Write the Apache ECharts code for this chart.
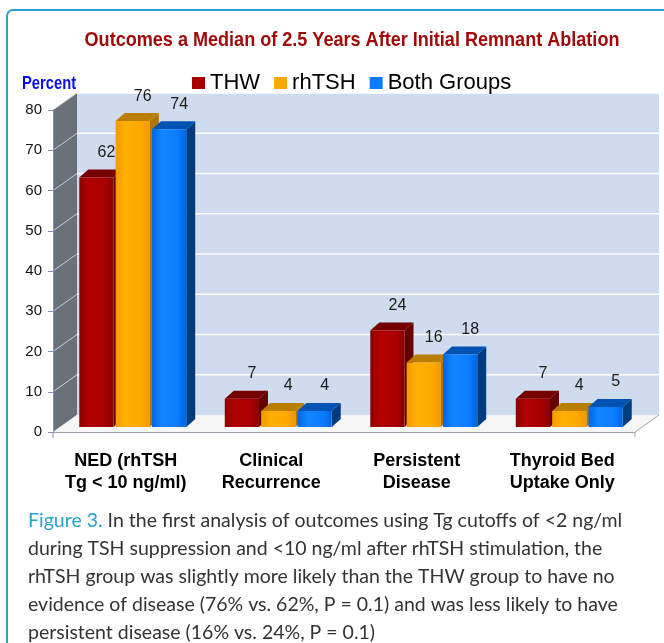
<!DOCTYPE html>
<html>
<head>
<meta charset="utf-8">
<script src="https://cdn.jsdelivr.net/npm/echarts@6/dist/echarts.min.js"></script>
<style>
html, body { margin: 0; padding: 0; background: #fff; }
#container { width: 664px; height: 643px; }
</style>
</head>
<body>
<div id="container"></div>
<script>
let categories = ['NED (rhTSH\nTg < 10 ng/ml)', 'Clinical\nRecurrence', 'Persistent\nDisease', 'Thyroid Bed\nUptake Only'];
let thwData = [62, 7, 24, 7];
let rhtshData = [76, 4, 16, 4];
let bothData = [74, 4, 18, 5];
let yTicks = [0, 10, 20, 30, 40, 50, 60, 70, 80];
let captionLines = [
    '{a|Figure 3.} In the first analysis of outcomes using Tg cutoffs of <2 ng/ml',
    'during TSH suppression and <10 ng/ml after rhTSH stimulation, the',
    'rhTSH group was slightly more likely than the THW group to have no',
    'evidence of disease (76% vs. 62%, P = 0.1) and was less likely to have',
    'persistent disease (16% vs. 24%, P = 0.1)'
];

// depth of the "3D" box and of each bar
let wallDx = 24, wallDy = 17;
let barDx = 9, barDy = 8;

let palette = {
    THW: { front: ['#8c0000', '#b30000', '#a80000', '#8a0000'], side: '#650000', top: '#760000' },
    rhTSH: { front: ['#f29a00', '#ffb000', '#ffa800', '#f09800'], side: '#b07400', top: '#b97d00' },
    Both: { front: ['#0066e6', '#1386ff', '#0a7cff', '#0066e0'], side: '#003b80', top: '#0052b3' }
};

function backdrop(params, api) {
    let cs = params.coordSys;
    let L = cs.x, T = cs.y, R = cs.x + cs.width, B = cs.y + cs.height;
    let kids = [];
    kids.push({ type: 'rect', shape: { x: L + wallDx, y: T - wallDy, width: R - L, height: B - T }, style: { fill: '#cfdbee' } });
    kids.push({ type: 'polygon', shape: { points: [[L, T], [L + wallDx, T - wallDy], [L + wallDx, B - wallDy], [L, B]] }, style: { fill: '#6a707a' } });
    yTicks.forEach(function (v) {
        if (v === 0) return;
        let y = api.coord([0, v])[1];
        kids.push({ type: 'line', shape: { x1: L + wallDx, y1: y - wallDy, x2: R + wallDx, y2: y - wallDy }, style: { stroke: '#ffffff', lineWidth: 1.5 } });
        kids.push({ type: 'line', shape: { x1: L, y1: y, x2: L + wallDx, y2: y - wallDy }, style: { stroke: '#c9cdd3', lineWidth: 1 } });
    });
    kids.push({ type: 'polygon', shape: { points: [[L, B], [L + wallDx, B - wallDy], [R + wallDx, B - wallDy], [R, B]] }, style: { fill: '#f6f6f6' } });
    kids.push({ type: 'line', shape: { x1: R, y1: B, x2: R + wallDx, y2: B - wallDy }, style: { stroke: '#a0a0a0', lineWidth: 1 } });
    kids.push({ type: 'line', shape: { x1: R, y1: B, x2: R, y2: B + 5 }, style: { stroke: '#a0a0a0', lineWidth: 1 } });
    kids.push({ type: 'line', shape: { x1: L, y1: B, x2: L, y2: B + 6 }, style: { stroke: '#7f93b0', lineWidth: 1 } });
    return { type: 'group', children: kids };
}

function makeBar(slot, col) {
    return function (params, api) {
        let i = api.value(0), v = api.value(1);
        let base = api.coord([i, 0]);
        let top = api.coord([i, v]);
        let catW = api.size([1, 0])[0];
        let bw = catW * 0.235;
        let x0 = base[0] + slot * catW * 0.25 - bw / 2 + 7;
        let x1 = x0 + bw;
        let yb = base[1] - 5, yt = top[1] - 5;
        let grad = new echarts.graphic.LinearGradient(0, 0, 1, 0, [
            { offset: 0, color: col.front[0] },
            { offset: 0.3, color: col.front[1] },
            { offset: 0.75, color: col.front[2] },
            { offset: 1, color: col.front[3] }
        ]);
        return {
            type: 'group',
            children: [
                { type: 'polygon', shape: { points: [[x1, yb], [x1 + barDx, yb - barDy], [x1 + barDx, yt - barDy], [x1, yt]] }, style: { fill: col.side } },
                { type: 'polygon', shape: { points: [[x0, yt], [x0 + barDx, yt - barDy], [x1 + barDx, yt - barDy], [x1, yt]] }, style: { fill: col.top } },
                { type: 'rect', shape: { x: x0, y: yt, width: bw, height: yb - yt }, style: { fill: grad } },
                { type: 'text', style: { text: String(v), x: (x0 + x1) / 2 + 10, y: yt - 25, align: 'center', verticalAlign: 'middle', font: '16px "Liberation Sans", Arial, sans-serif', fill: '#1a1a1a' } }
            ]
        };
    };
}

function toPoints(arr) {
    return arr.map(function (v, i) { return [i, v]; });
}

var dom = document.getElementById('container');
var myChart = echarts.init(dom, null, { renderer: 'canvas' });

var captionGraphics = captionLines.map(function (line, k) {
    return {
        type: 'text', left: 28, top: 511 + k * 28,
        style: {
            text: line,
            font: '19.5px Lato, "Open Sans", sans-serif',
            fill: '#333333',
            rich: { a: { fill: '#26a3cc', font: '19.5px Lato, "Open Sans", sans-serif' } }
        }
    };
});

var option = {
    animation: false,
    backgroundColor: '#ffffff',
    grid: { left: 53, right: 29, top: 110, bottom: 211 },
    legend: {
        left: 187, top: 67,
        icon: 'rect', itemWidth: 13, itemHeight: 12, itemGap: 14,
        textStyle: { fontSize: 22, fontFamily: '"Liberation Sans", Arial, sans-serif', color: '#000' },
        data: ['THW', 'rhTSH', 'Both Groups']
    },
    xAxis: {
        type: 'category',
        data: categories,
        z: 5,
        axisLine: { lineStyle: { color: '#9aa0a8' } },
        axisTick: { show: false },
        axisLabel: {
            interval: 0,
            fontSize: 18, fontWeight: 'bold', color: '#000', lineHeight: 22, margin: 18,
            fontFamily: '"Liberation Sans", Arial, sans-serif'
        }
    },
    yAxis: {
        type: 'value', min: 0, max: 80, interval: 10, z: 5,
        axisLine: { show: true, lineStyle: { color: '#7f93b0' } },
        axisTick: { show: true, length: 5, lineStyle: { color: '#7f93b0' } },
        splitLine: { show: false },
        axisLabel: { fontSize: 15, color: '#111', margin: 11, fontFamily: '"Liberation Sans", Arial, sans-serif' }
    },
    graphic: [
        { type: 'rect', shape: { x: 7, y: 10, width: 720, height: 700, r: 6 }, style: { fill: 'none', stroke: '#2b9fc9', lineWidth: 2 } },
        { type: 'text', x: 352, y: 40, scaleX: 0.86, style: { text: 'Outcomes a Median of 2.5 Years After Initial Remnant Ablation', align: 'center', verticalAlign: 'middle', font: 'bold 21px "Liberation Sans", Arial, sans-serif', fill: '#a00a0a' } },
        { type: 'text', x: 49, y: 84, scaleX: 0.82, style: { text: 'Percent', align: 'center', verticalAlign: 'middle', font: 'bold 18px "Liberation Sans", Arial, sans-serif', fill: '#0a0aee' } }
    ].concat(captionGraphics),
    series: [
        { type: 'custom', name: 'backdrop', z: 1, renderItem: backdrop, data: [[0, 0]], silent: true },
        { type: 'custom', name: 'THW', z: 2, renderItem: makeBar(-1, palette.THW), data: toPoints(thwData), encode: { x: 0, y: 1 }, itemStyle: { color: '#a80000' } },
        { type: 'custom', name: 'rhTSH', z: 2, renderItem: makeBar(0, palette.rhTSH), data: toPoints(rhtshData), encode: { x: 0, y: 1 }, itemStyle: { color: '#ffa800' } },
        { type: 'custom', name: 'Both Groups', z: 2, renderItem: makeBar(1, palette.Both), data: toPoints(bothData), encode: { x: 0, y: 1 }, itemStyle: { color: '#0a7cff' } }
    ]
};

if (option && typeof option === 'object') {
    myChart.setOption(option);
}

window.addEventListener('resize', myChart.resize);
</script>
</body>
</html>
